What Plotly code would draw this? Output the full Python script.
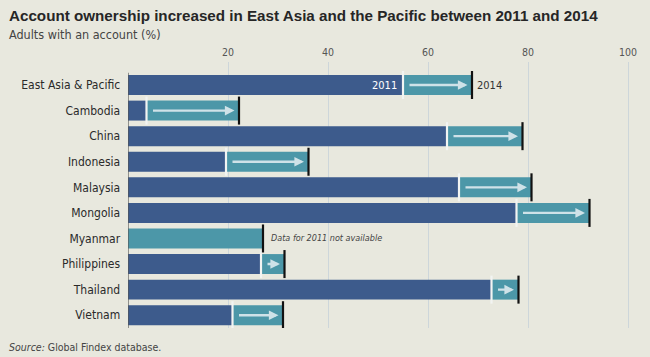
import plotly.graph_objects as go

categories = ["East Asia & Pacific", "Cambodia", "China", "Indonesia", "Malaysia",
              "Mongolia", "Myanmar", "Philippines", "Thailand", "Vietnam"]
v2011 = [55, 3.7, 63.8, 19.6, 66.2, 77.7, None, 26.6, 72.7, 20.9]
v2014 = [68.8, 22.2, 78.9, 36.1, 80.7, 92.3, 27.0, 31.3, 78.1, 31.0]
tick_vals = [20, 40, 60, 80, 100]

BG = "#E8E8DE"
DARK = "#3D5B8C"
TEAL = "#4C97A8"
ARROW = "#CFE2E8"
FONT = "Liberation Sans Narrow, DejaVu Sans Condensed, Arial Narrow, sans-serif"

fig = go.Figure()

base11 = [v if v is not None else 0 for v in v2011]
inc = [b - a for a, b in zip(base11, v2014)]

fig.add_trace(go.Bar(y=categories, x=base11, orientation="h", marker_color=DARK,
                     marker_line_width=0, width=0.78, hoverinfo="skip"))
fig.add_trace(go.Bar(y=categories, x=inc, base=base11, orientation="h", marker_color=TEAL,
                     marker_line_width=0, width=0.78, hoverinfo="skip"))

# light separators at 2011 value
sep_y = [c for c, v in zip(categories, v2011) if v is not None]
sep_x = [v for v in v2011 if v is not None]
fig.add_trace(go.Scatter(x=sep_x, y=sep_y, mode="markers",
                         marker=dict(symbol="line-ns-open", size=20, color="#F2F4F2",
                                     line=dict(color="#F2F4F2", width=2.2)),
                         hoverinfo="skip"))
# black end markers at 2014 value
fig.add_trace(go.Scatter(x=v2014, y=categories, mode="markers",
                         marker=dict(symbol="line-ns-open", size=20, color="#111111",
                                     line=dict(color="#111111", width=2.2)),
                         hoverinfo="skip"))

annotations = []
for c, a, b in zip(categories, v2011, v2014):
    if a is None:
        continue
    annotations.append(dict(x=b - 0.9, y=c, ax=a + 1.0, ay=c, xref="x", yref="y",
                            axref="x", ayref="y", showarrow=True, arrowhead=2,
                            arrowsize=0.8, arrowwidth=2.4, arrowcolor=ARROW, text=""))

annotations += [
    dict(x=v2011[0] - 0.8, y=categories[0], xref="x", yref="y", text="2011",
         showarrow=False, xanchor="right", font=dict(family=FONT, size=11, color="white")),
    dict(x=v2014[0] + 0.6, y=categories[0], xref="x", yref="y", text="2014",
         showarrow=False, xanchor="left", font=dict(family=FONT, size=11, color="#333333")),
    dict(x=v2014[6] + 1.2, y=categories[6], xref="x", yref="y",
         text="<i>Data for 2011 not available</i>",
         showarrow=False, xanchor="left", font=dict(family=FONT, size=9, color="#444444")),
    dict(x=-0.237, y=1.173, xref="paper", yref="paper", xanchor="left", yanchor="middle",
         text="<b>Account ownership increased in East Asia and the Pacific between 2011 and 2014</b>",
         showarrow=False, font=dict(family="Liberation Sans, Arial, sans-serif", size=15.2, color="#262626")),
    dict(x=-0.237, y=1.105, xref="paper", yref="paper", xanchor="left", yanchor="middle",
         text="Adults with an account (%)",
         showarrow=False, font=dict(family=FONT, size=12.5, color="#444444")),
    dict(x=-0.237, y=-0.071, xref="paper", yref="paper", xanchor="left", yanchor="middle",
         text="<i>Source:</i> Global Findex database.",
         showarrow=False, font=dict(family=FONT, size=10.5, color="#444444")),
]

fig.update_layout(
    width=650, height=357,
    margin=dict(l=128, r=12, t=62, b=29, autoexpand=False),
    paper_bgcolor=BG, plot_bgcolor=BG,
    barmode="overlay", showlegend=False,
    annotations=annotations,
    xaxis=dict(range=[0, 102], side="top", tickvals=tick_vals, automargin=False,
               showgrid=True, gridcolor="#CDD6DA", gridwidth=1, zeroline=False,
               ticks="", ticklabelstandoff=3,
               tickfont=dict(family=FONT, size=10.5, color="#555555"),
               showline=False, fixedrange=True),
    yaxis=dict(categoryorder="array", categoryarray=categories, automargin=False,
               range=[9.5, -0.9], showgrid=False, zeroline=False,
               showline=False, ticks="", ticksuffix="  ",
               tickfont=dict(family=FONT, size=12, color="#2a2a2a"), fixedrange=True),
    shapes=[dict(type="line", xref="x", yref="paper", x0=0, x1=0, y0=0, y1=0.96,
                 line=dict(color="#555555", width=1.2))],
)

fig.write_html("out.html", post_script="document.body.style.margin='0';",
               config={"displayModeBar": False})
